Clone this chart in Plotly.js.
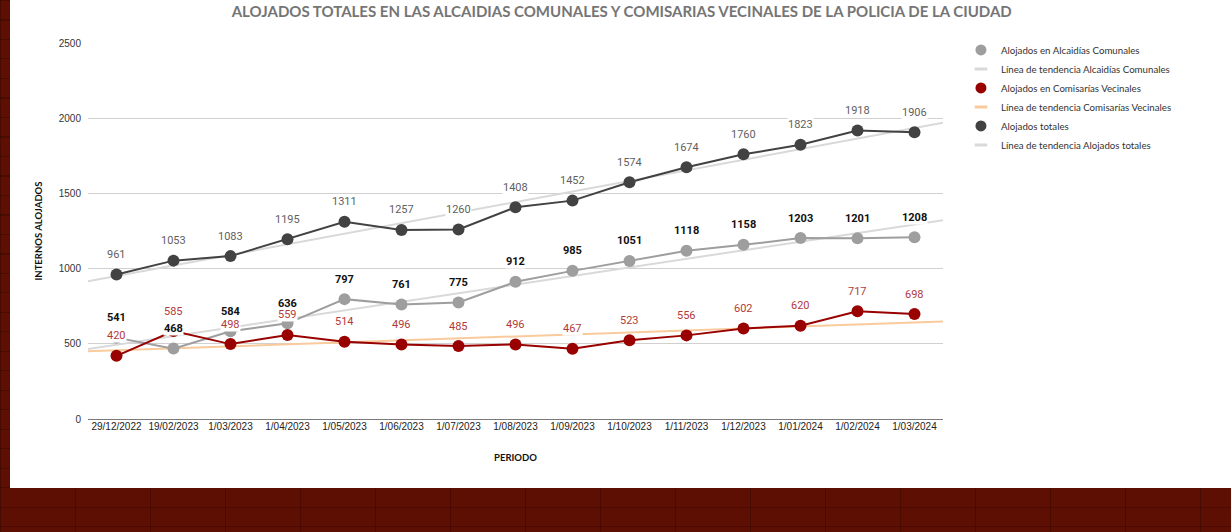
<!DOCTYPE html>
<html>
<head>
<meta charset="utf-8">
<script src="https://cdn.plot.ly/plotly-3.0.1.min.js"></script>
<style>
  html, body { margin: 0; padding: 0; }
  body {
    width: 1231px; height: 532px; overflow: hidden; position: relative;
    background-color: #5c0f02;
    background-image:
      repeating-linear-gradient(to right, rgba(40,5,0,0.35) 0px, rgba(40,5,0,0.35) 1px, transparent 1px, transparent 75px),
      repeating-linear-gradient(to bottom, rgba(40,5,0,0.35) 0px, rgba(40,5,0,0.35) 1px, transparent 1px, transparent 19.5px);
  }
  #panel { position: absolute; left: 10px; top: 0; width: 1221px; height: 488px; background: #ffffff; }
  #chart { width: 1221px; height: 488px; }
</style>
</head>
<body>
<div id="panel"><div id="chart"></div></div>
<script>
// ---- data ----
const categories = ["29/12/2022","19/02/2023","1/03/2023","1/04/2023","1/05/2023","1/06/2023","1/07/2023","1/08/2023","1/09/2023","1/10/2023","1/11/2023","1/12/2023","1/01/2024","1/02/2024","1/03/2024"];
const alcaldias  = [541, 468, 584, 636, 797, 761, 775, 912, 985, 1051, 1118, 1158, 1203, 1201, 1208];
const comisarias = [420, 585, 498, 559, 514, 496, 485, 496, 467, 523, 556, 602, 620, 717, 698];
const totales    = [961, 1053, 1083, 1195, 1311, 1257, 1260, 1408, 1452, 1574, 1674, 1760, 1823, 1918, 1906];
// trend line end values at the left and right edges of the plot
const trendEdges       = [-0.5, 14.5];
const trendAlcaldias   = [465, 1322];
const trendComisarias  = [450, 648];
const trendTotales     = [915, 1970];
const yTicks = [0, 500, 1000, 1500, 2000, 2500];

const names = {
  alc: "Alojados en Alcaidías Comunales",
  alcT: "Línea de tendencia Alcaidías Comunales",
  com: "Alojados en Comisarías Vecinales",
  comT: "Línea de tendencia Comisarías Vecinales",
  tot: "Alojados totales",
  totT: "Línea de tendencia Alojados totales"
};

const C = {
  alc: "#9e9e9e", com: "#990000", tot: "#424242",
  trendGray: "#d9d9d9", trendPeach: "#f9cb9c",
  labAlc: "#111111", labCom: "#b23a3a", labTot: "#5f5f5f"
};

const xIdx = categories.map((_, i) => i);

function lineTrace(y, color, width) {
  return { x: xIdx, y: y, mode: "lines+markers", type: "scatter", showlegend: false, hoverinfo: "y",
           line: { color: color, width: width }, marker: { color: color, size: 12 } };
}
function trendTrace(y, color) {
  return { x: trendEdges, y: y, mode: "lines", type: "scatter", showlegend: false, hoverinfo: "skip",
           line: { color: color, width: 2 } };
}
function legendMarker(name, color) {
  return { x: [null], y: [null], mode: "markers", type: "scatter", name: name,
           marker: { color: color, size: 11, symbol: "circle" } };
}
function legendTrend(name, color) {
  return { x: [null], y: [null], mode: "markers", type: "scatter", name: name,
           marker: { symbol: "line-ew", size: 9, color: color, line: { color: color, width: 3 } } };
}

const data = [
  trendTrace(trendComisarias, C.trendPeach),
  trendTrace(trendAlcaldias, C.trendGray),
  trendTrace(trendTotales, C.trendGray),
  lineTrace(alcaldias, C.alc, 2),
  lineTrace(comisarias, C.com, 2),
  lineTrace(totales, C.tot, 2),
  legendMarker(names.alc, C.alc),
  legendTrend(names.alcT, C.trendGray),
  legendMarker(names.com, C.com),
  legendTrend(names.comT, C.trendPeach),
  legendMarker(names.tot, C.tot),
  legendTrend(names.totT, C.trendGray)
];

const annotations = [];
function addLabels(values, color, bold) {
  values.forEach((v, i) => {
    annotations.push({
      x: xIdx[i], y: v, xref: "x", yref: "y", text: bold ? "<b>" + v + "</b>" : String(v),
      showarrow: false, yshift: 20, bgcolor: "#ffffff", borderpad: 0,
      font: { family: "Roboto, sans-serif", size: 11, color: color }
    });
  });
}
addLabels(totales, C.labTot, false);
addLabels(alcaldias, C.labAlc, true);
addLabels(comisarias, C.labCom, false);

const tickFamily = "'Liberation Sans', Arial, sans-serif";

const layout = {
  width: 1221, height: 488,
  paper_bgcolor: "#ffffff", plot_bgcolor: "#ffffff",
  margin: { l: 78, r: 288, t: 43, b: 69 },
  title: {
    text: "<b>ALOJADOS TOTALES EN LAS ALCAIDIAS COMUNALES Y COMISARIAS VECINALES DE LA POLICIA DE LA CIUDAD</b>",
    font: { family: "Lato, sans-serif", size: 15, color: "#757575" },
    x: 0.501, xref: "container", y: 0.975, yref: "container", yanchor: "middle"
  },
  xaxis: {
    type: "linear", range: [-0.5, 14.5], tickvals: xIdx, ticktext: categories,
    showgrid: false, zeroline: false, showline: false, ticks: "", automargin: false,
    tickfont: { family: tickFamily, size: 10, color: "#222222" },
    title: { text: "<b>PERIODO</b>", standoff: 23,
             font: { family: "Lato, sans-serif", size: 9.5, color: "#111111" } }
  },
  yaxis: {
    range: [0, 2500], tickvals: yTicks, showgrid: true, gridcolor: "#d0d0d0", gridwidth: 1,
    zeroline: true, zerolinecolor: "#7a7a7a", zerolinewidth: 1, showline: false,
    ticks: "", ticklabelstandoff: 6, automargin: false,
    tickfont: { family: tickFamily, size: 10, color: "#333333" },
    title: { text: "<b>INTERNOS ALOJADOS</b>", standoff: 14,
             font: { family: "Lato, sans-serif", size: 9.5, color: "#111111" } }
  },
  legend: {
    x: 1.021, y: 1.02, xanchor: "left", yanchor: "top", traceorder: "normal",
    font: { family: "Lato, sans-serif", size: 9.7, color: "#333333" },
    bgcolor: "rgba(0,0,0,0)"
  },
  annotations: annotations,
  showlegend: true
};

Plotly.newPlot("chart", data, layout, { displayModeBar: false, staticPlot: true });
</script>
</body>
</html>
